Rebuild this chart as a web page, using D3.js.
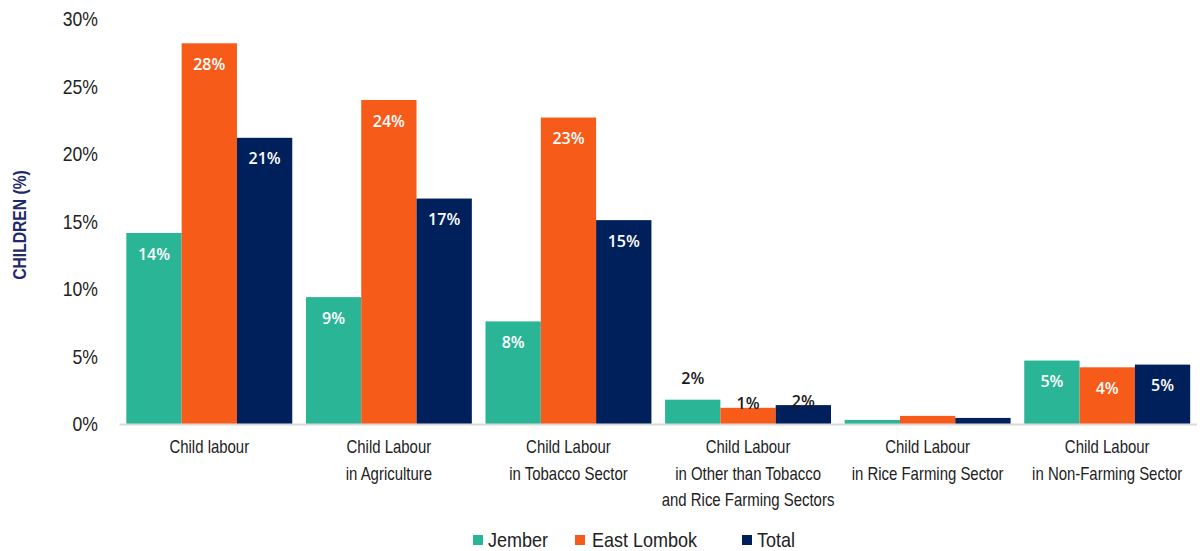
<!DOCTYPE html>
<html>
<head>
<meta charset="utf-8">
<script src="https://cdn.jsdelivr.net/npm/d3@7"></script>
<style>
  body { margin: 0; background: #fff; }
  svg text { font-family: "Liberation Sans", Arial, sans-serif; }
</style>
</head>
<body>
<div id="chart"></div>
<script>
// Categories (multi-line labels) and series values
const categories = [
  ["Child labour"],
  ["Child Labour", "in Agriculture"],
  ["Child Labour", "in Tobacco Sector"],
  ["Child Labour", "in Other than Tobacco", "and Rice Farming Sectors"],
  ["Child Labour", "in Rice Farming Sector"],
  ["Child Labour", "in Non-Farming Sector"]
];
const seriesNames = ["Jember", "East Lombok", "Total"];
const jember = [14.15, 9.4, 7.6, 1.8, 0.3, 4.7];
const eastLombok = [28.2, 24.0, 22.7, 1.2, 0.6, 4.2];
const total = [21.2, 16.7, 15.1, 1.4, 0.45, 4.4];
// Printed labels (null = none shown)
const jemberLabels = ["14%", "9%", "8%", "2%", null, "5%"];
const eastLombokLabels = ["28%", "24%", "23%", "1%", null, "4%"];
const totalLabels = ["21%", "17%", "15%", "2%", null, "5%"];
const yTicks = [0, 5, 10, 15, 20, 25, 30];

const colors = ["#2bb597", "#f75b1a", "#00205b"];
const series = [jember, eastLombok, total];
const labels = [jemberLabels, eastLombokLabels, totalLabels];

const width = 1200, height = 551;
const svg = d3.select('#chart').append('svg')
  .attr('width', width)
  .attr('height', height);

const x0 = d3.scaleBand()
  .domain(d3.range(categories.length))
  .range([119.5, 1197])
  .paddingInner(0.076)
  .paddingOuter(0.038);

const x1 = d3.scaleBand()
  .domain(d3.range(seriesNames.length))
  .range([0, x0.bandwidth()]);

const y = d3.scaleLinear()
  .domain([0, 30])
  .range([424, 19]);

// Y axis tick labels (narrow look)
yTicks.forEach(t => {
  svg.append('text')
    .attr('transform', `translate(98,${y(t)}) scale(0.88,1)`)
    .attr('text-anchor', 'end')
    .attr('dy', '0.36em')
    .style('font-size', '20px')
    .style('fill', '#222')
    .text(t + '%');
});

// Y axis title
svg.append('text')
  .attr('transform', 'translate(26,225) rotate(-90) scale(0.87,1)')
  .attr('text-anchor', 'middle')
  .style('font-size', '18px')
  .style('font-weight', 'bold')
  .style('fill', '#1f2a6b')
  .text('CHILDREN (%)');

// Bars
const groups = svg.append('g').selectAll('g')
  .data(categories)
  .join('g')
  .attr('transform', (d, i) => `translate(${x0(i)},0)`);

groups.each(function(cat, ci) {
  const g = d3.select(this);
  series.forEach((vals, si) => {
    g.append('rect')
      .attr('x', x1(si))
      .attr('y', y(vals[ci]))
      .attr('width', x1.bandwidth())
      .attr('height', y(0) - y(vals[ci]))
      .attr('fill', colors[si]);
  });
});

// Baseline
svg.append('line')
  .attr('x1', 119.5).attr('x2', 1197)
  .attr('y1', y(0) + 0.5).attr('y2', y(0) + 0.5)
  .attr('stroke', '#d9d9d9')
  .attr('stroke-width', 2);

// Value labels
groups.each(function(cat, ci) {
  const g = d3.select(this);
  series.forEach((vals, si) => {
    const lab = labels[si][ci];
    if (!lab) return;
    const h = y(0) - y(vals[ci]);
    const inside = h > 40;
    let ty = inside ? y(vals[ci]) + 21 : y(vals[ci]) - 21;
    if (!inside && si > 0) ty = y(vals[ci]) - 4;
    g.append('text')
      .attr('x', x1(si) + x1.bandwidth() / 2)
      .attr('y', ty)
      .attr('dy', '0.35em')
      .attr('text-anchor', 'middle')
      .style('font-family', '"Open Sans", "Noto Sans", sans-serif')
      .style('font-size', '16px')
      .style('font-weight', '600')
      .style('fill', inside ? '#fff' : '#1a1a1a')
      .text(lab);
  });
});

// Category labels
groups.each(function(cat, ci) {
  const t = d3.select(this).append('text')
    .attr('transform', `translate(${x0.bandwidth() / 2},0) scale(0.83,1)`)
    .attr('text-anchor', 'middle')
    .style('font-size', '18px')
    .style('fill', '#222');
  cat.forEach((line, li) => {
    t.append('tspan')
      .attr('x', 0)
      .attr('y', 453.5 + li * 26.5)
      .text(line);
  });
});

// Legend
const legendX = [473, 575, 742];
const legend = svg.append('g').selectAll('g')
  .data(seriesNames)
  .join('g')
  .attr('transform', (d, i) => `translate(${legendX[i]},540)`);
legend.append('rect')
  .attr('x', 0).attr('y', -5)
  .attr('width', 10).attr('height', 10)
  .attr('fill', (d, i) => colors[i]);
legend.append('text')
  .attr('transform', (d, i) => `translate(${i === 1 ? 17 : 15},0) scale(0.9,1)`)
  .attr('dy', '0.36em')
  .style('font-size', '20px')
  .style('fill', '#222')
  .text(d => d);
</script>
</body>
</html>
